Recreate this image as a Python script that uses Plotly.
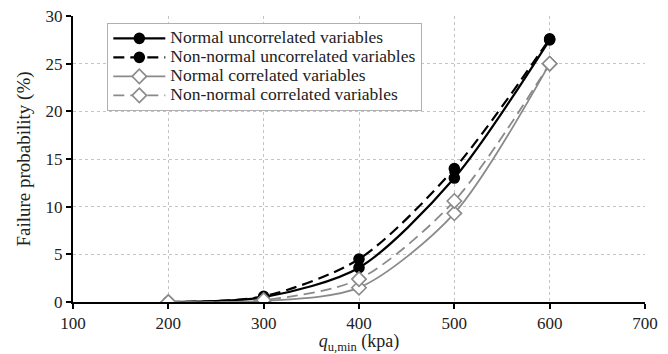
import plotly.graph_objects as go

x_vals = [200, 300, 400, 500, 600]
normal_uncorr = [0.0, 0.5, 3.6, 13.0, 27.5]
nonnormal_uncorr = [0.0, 0.6, 4.5, 14.0, 27.6]
normal_corr = [0.0, 0.1, 1.5, 9.3, 25.0]
nonnormal_corr = [0.0, 0.2, 2.4, 10.6, 25.0]
names = ["Normal uncorrelated variables", "Non-normal uncorrelated variables",
         "Normal correlated variables", "Non-normal correlated variables"]

GRAY = "#8a8a8a"
fig = go.Figure()
series = [
    (normal_uncorr, "black", "solid", "circle", "black", "black", 2.2),
    (nonnormal_uncorr, "black", "11px,6px", "circle", "black", "black", 2.2),
    (normal_corr, GRAY, "solid", "diamond", "white", GRAY, 1.8),
    (nonnormal_corr, GRAY, "11px,6px", "diamond", "white", GRAY, 1.8),
]
for (y, col, dash, sym, fill, mline, lw), name in zip(series, names):
    fig.add_trace(go.Scatter(
        x=x_vals, y=y,
        name='<span style="font-size:17.5px">' + name + '</span>',
        mode="lines+markers",
        line=dict(color=col, width=lw, dash=dash, shape="spline", smoothing=0.8),
        marker=dict(symbol=sym, size=10 if sym == "circle" else 11, color=fill,
                    line=dict(color=mline, width=1.6)),
    ))

font_family = "Liberation Serif, Times New Roman, serif"
fig.update_layout(
    width=668, height=354,
    margin=dict(l=73, r=23, t=16, b=52),
    plot_bgcolor="white", paper_bgcolor="white",
    font=dict(family=font_family, size=17, color="#222"),
    showlegend=True,
    legend=dict(x=0.06, y=0.976, xanchor="left", yanchor="top",
                bordercolor="#b0b0b0", borderwidth=1, bgcolor="white",
                font=dict(family=font_family, size=12, color="#222"),
                tracegroupgap=0, itemwidth=52),
    xaxis=dict(range=[100, 700], dtick=100, tick0=100, automargin=False,
               showgrid=True, gridcolor="#c4c4c4", griddash="dot", gridwidth=1,
               showline=True, linecolor="black", linewidth=2,
               ticks="outside", ticklen=5, tickwidth=2, tickcolor="black",
               zeroline=False,
               title=dict(text="<i>q</i><sub>u,min</sub> (kpa)", standoff=0,
                          font=dict(family=font_family, size=18))),
    yaxis=dict(range=[0, 30], dtick=5, automargin=False,
               showgrid=True, gridcolor="#c4c4c4", griddash="dot", gridwidth=1,
               showline=True, linecolor="black", linewidth=2,
               ticks="outside", ticklen=5, tickwidth=2, tickcolor="black",
               zeroline=False,
               title=dict(text="Failure probability (%)", standoff=10,
                          font=dict(family=font_family, size=19))),
)

fig.write_html("out.html")
